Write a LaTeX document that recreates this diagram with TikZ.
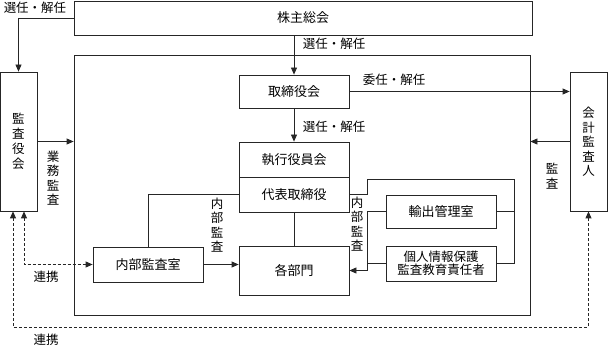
\documentclass[tikz,border=0pt]{standalone}
\usepackage{fontspec}
\setmainfont{Noto Sans CJK JP}
\usetikzlibrary{arrows.meta}
\begin{document}
\begin{tikzpicture}[x=1pt,y=-1pt,
  every node/.style={font=\fontsize{13}{15}\selectfont, inner sep=0pt},
  box/.style={draw=black!85, line width=0.8pt, rectangle, align=center},
  lbl/.style={align=center, font=\fontsize{12.5}{15}\selectfont},
  vlbl/.style={align=center, font=\fontsize{12.5}{14.5}\selectfont},
  conn/.style={draw=black!85, line width=0.8pt},
  arr/.style={conn, -{Triangle[length=7pt,width=6pt]}},
  darr/.style={conn, dash pattern=on 3pt off 2pt, {Triangle[length=7pt,width=6pt]}-{Triangle[length=7pt,width=6pt]}}
]
\useasboundingbox (0,0) rectangle (608,347);
% boxes
\node[box, minimum width=458pt, minimum height=34pt] (sh) at (303,18) {株主総会};
\node[box, minimum width=456pt, minimum height=260pt] (co) at (302,185) {};
\node[box, minimum width=37pt, minimum height=139pt, font=\fontsize{12.5}{15}\selectfont] (ka) at (18.5,141.5) {監\\査\\役\\会};
\node[box, minimum width=37pt, minimum height=139pt] (au) at (588.5,141.5) {};
\node[vlbl] (autxt) at (588.5,142) {会\\計\\監\\査\\人};
\node[box, minimum width=110pt, minimum height=33pt] (bd) at (294,91.5) {取締役会};
\node[box, minimum width=110pt, minimum height=35pt] (ex) at (294,159.5) {執行役員会};
\node[box, minimum width=110pt, minimum height=35pt] (rp) at (294,194.5) {代表取締役};
\node[box, minimum width=110pt, minimum height=35pt] (ia) at (148,264.5) {内部監査室};
\node[box, minimum width=110pt, minimum height=49pt] (dp) at (294,270.5) {各部門};
\node[box, minimum width=110pt, minimum height=33pt] (xp) at (441,211.5) {輸出管理室};
\node[box, minimum width=110pt, minimum height=35pt, font=\fontsize{12.5}{13.5}\selectfont] (pv) at (441,263.5) {個人情報保護\\監査教育責任者};
% labels
\node[lbl] (l1) at (35,8) {選任・解任};
\node[lbl] (l2) at (334,44) {選任・解任};
\node[lbl] (l3) at (394,80) {委任・解任};
\node[lbl] (l4) at (334,127) {選任・解任};
\node[vlbl] (l5) at (53,178) {業\\務\\監\\査};
\node[vlbl] (l6) at (552,176) {監\\査};
\node[vlbl] (l7) at (217,225) {内\\部\\監\\査};
\node[vlbl] (l8) at (357,224) {内\\部\\監\\査};
\node[lbl] (l9) at (46,277) {連携};
\node[lbl] (l10) at (46,340) {連携};
% coordinates
\coordinate (c1) at (367,179);
\coordinate (c2) at (514,179);
\coordinate (c3) at (367,211.5);
\coordinate (c4) at (514,263.5);
\coordinate (c5) at (367,263.5);
\coordinate (d1) at (24,0);
\coordinate (d2) at (13,327);
% connectors
\draw[arr] (sh.west) -| (ka.north);
\draw[arr] (bd.north |- sh.south) -- (bd.north);
\draw[arr] (bd.east) -- (bd.east -| au.west);
\draw[arr] (bd.south) -- (ex.north);
\draw[arr] (ka.east) -- (ka.east -| co.west);
\draw[arr] (au.west) -- (au.west -| co.east);
\draw[conn] (rp.west) -| (ia.north);
\draw[conn] (rp.south) -- (dp.north);
\draw[arr] (ia.east) -- (ia.east -| dp.west);
\draw[conn] (rp.east) -| (c1) -- (c2) |- (pv.east);
\draw[conn] (xp.east) -- (xp.east -| c2);
\draw[arr] (xp.west) -- (c3) |- (dp.east);
\draw[conn] (pv.west) -- (c5);
\draw[darr] (ka.south -| d1) |- (ia.west);
\draw[darr] (ka.south -| d2) |- (d2) -| (au.south);
\end{tikzpicture}
\end{document}
